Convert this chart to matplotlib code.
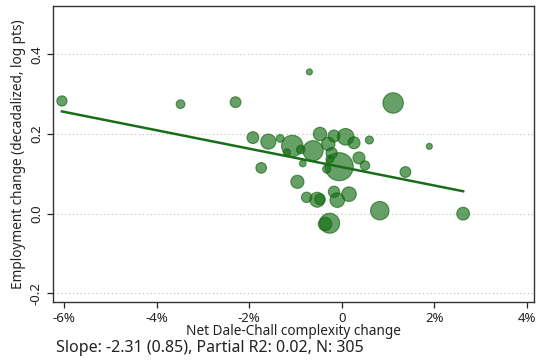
import matplotlib
matplotlib.use("Agg")
import matplotlib.pyplot as plt
import numpy as np
from matplotlib.ticker import FuncFormatter

plt.rcParams['font.family'] = ['Noto Sans', 'DejaVu Sans']

# Net Dale-Chall complexity change (fraction) per occupation group
x_vals = [-0.0605, -0.03485, -0.02295, -0.00698, 0.01113, 0.01896, 0.02627,
          0.00824, 0.01379, 0.00600, -0.01920, -0.01586, -0.01330, -0.01068,
          -0.01185, -0.00885, -0.00620, -0.00841, -0.01740, -0.00958, -0.00757,
          -0.00528, -0.00470, -0.00260, -0.00360, -0.00469, -0.00166, 0.00086,
          0.00266, -0.00290, -0.00216, -0.00253, -0.00052, -0.00324, 0.00374,
          0.00504, -0.00166, -0.00095, 0.00158]
# Employment change (decadalized, log pts)
y_vals = [0.283, 0.275, 0.280, 0.356, 0.278, 0.169, 0.000,
          0.0075, 0.1046, 0.185, 0.191, 0.181, 0.189, 0.170,
          0.154, 0.161, 0.158, 0.126, 0.115, 0.080, 0.041,
          0.035, 0.036, -0.024, -0.026, 0.200, 0.195, 0.193,
          0.178, 0.175, 0.152, 0.137, 0.118, 0.112, 0.140,
          0.121, 0.055, 0.034, 0.049]
# Employment weights (bubble area)
weights = [26, 19, 29, 9, 104, 9, 41,
           85, 29, 16, 35, 57, 15, 115,
           12, 18, 102, 11, 28, 43, 27,
           56, 28, 100, 45, 45, 36, 69,
           36, 45, 32, 16, 196, 16, 36,
           22, 32, 53, 53]

slope = -2.31
intercept = 0.117
stats_text = "Slope: -2.31 (0.85), Partial R2: 0.02, N: 305"

x_ticks = [-0.06, -0.04, -0.02, 0.0, 0.02, 0.04]
y_ticks = [-0.2, 0.0, 0.2, 0.4]

fig = plt.figure(figsize=(5.36, 3.63), dpi=100)
ax = fig.add_axes([0.0983, 0.1672, 0.898, 0.8168])

fill = (0.08, 0.43, 0.08)
sizes = np.array(weights) * (1.44 ** 2)
ax.scatter(x_vals, y_vals, s=sizes, color=fill, alpha=0.65,
           edgecolors=(0.06, 0.38, 0.06), linewidths=0.8, zorder=3)

xl = np.array([min(x_vals), max(x_vals)])
ax.plot(xl, intercept + slope * xl, color='#1a6e1a', lw=1.8, zorder=4)

ax.set_xlim(-0.0625, 0.0416)
ax.set_ylim(-0.2226, 0.522)
ax.set_xticks(x_ticks)
ax.set_yticks(y_ticks)
ax.xaxis.set_major_formatter(FuncFormatter(
    lambda v, p: "0" if abs(v) < 1e-9 else f"{v*100:.0f}%"))
ax.yaxis.set_major_formatter(FuncFormatter(lambda v, p: f"{v:.1f}"))
for lbl in ax.get_yticklabels():
    lbl.set_rotation(90)
    lbl.set_va('center')

ax.tick_params(axis='both', labelsize=9.5, length=4, width=0.9,
               color='#222222', labelcolor='#222222', pad=3)
ax.tick_params(axis='y', pad=3)
ax.grid(axis='y', linestyle=(0, (1, 2.5)), color='#bbbbbb', lw=0.8)
ax.grid(axis='x', visible=False)
ax.set_axisbelow(True)
for sp in ax.spines.values():
    sp.set_color('#333333')
    sp.set_linewidth(1.0)

ax.set_xlabel("Net Dale-Chall complexity change", fontsize=9.8, labelpad=-1,
              color='#222222')
ax.set_ylabel("Employment change (decadalized, log pts)", fontsize=9.8,
              labelpad=3, color='#222222')
fig.text(0.104, 0.018, stats_text, fontsize=11.5, color='#222222',
         ha='left', va='bottom')

fig.savefig("out.png", dpi=100)
